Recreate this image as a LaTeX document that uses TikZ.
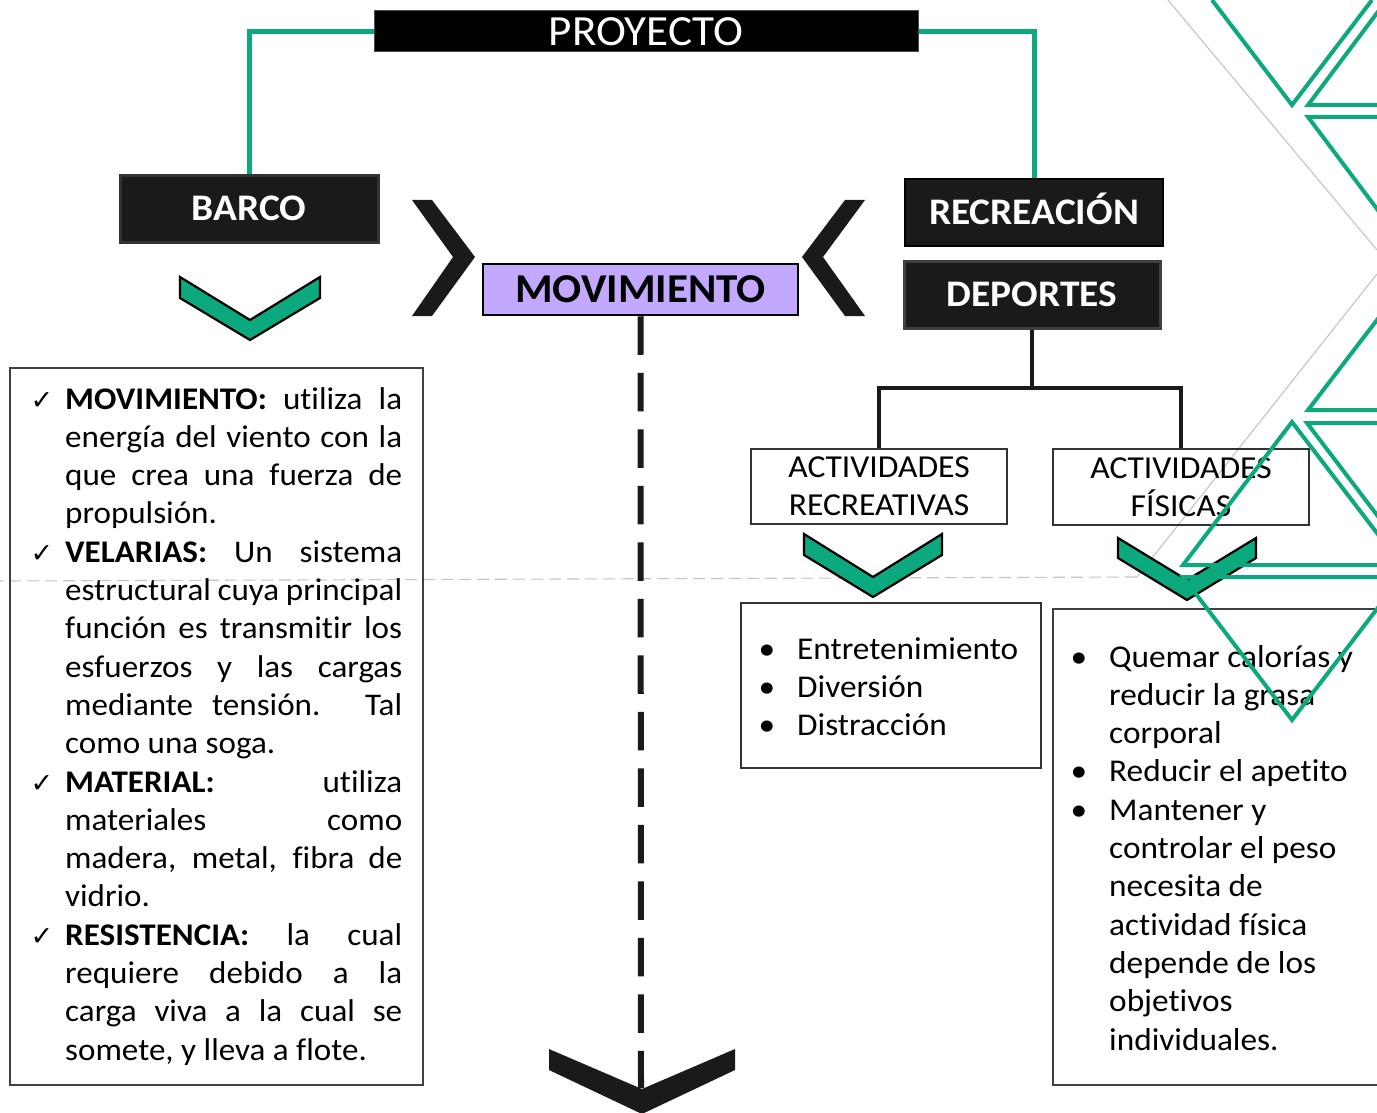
\documentclass[tikz,border=0pt]{standalone}
\usepackage{fontspec}
\setmainfont{Carlito}[FakeStretch=1.05, Ligatures=NoCommon]
\newfontfamily\symfont{DejaVu Sans}
\definecolor{grn}{RGB}{12,168,126}
\definecolor{lav}{RGB}{195,168,255}
\definecolor{ink}{RGB}{26,26,26}
\definecolor{gry}{RGB}{196,196,196}
\newcommand\jline[1]{\makebox[337pt][s]{#1}\\}
\newcommand\chk{\leavevmode\llap{{\symfont\fontsize{27}{27}\selectfont ✓}\hspace{12pt}}}
\newcommand\bul{\leavevmode\llap{•\hspace{22pt}}}
\begin{document}
\begin{tikzpicture}[x=1pt,y=-1pt,
  darkbox/.style={fill=ink, text=white, inner sep=0pt, text depth=0pt,
    font=\bfseries\fontsize{37.5}{37.5}\selectfont, text height=24pt},
  whitebox/.style={draw=black!80, line width=1.5pt, inner sep=0pt, fill=none},
  gconn/.style={draw=grn, line width=5pt},
  bconn/.style={draw=ink, line width=3.5pt},
  dline/.style={draw=ink, line width=6pt, dash pattern=on 38.5pt off 18pt},
  gline/.style={draw=gry, line width=1.1pt},
  tline/.style={draw=grn, line width=4pt},
  gchev/.style={fill=grn, draw=black, line width=2.2pt, line join=miter},
  kchev/.style={fill=ink},
  body/.style={anchor=base west, inner sep=0pt, text=black}
]
\clip (0,0) rectangle (1377,1113);
\fill[white] (0,0) rectangle (1377,1113);

% background grey lines
\draw[gline] (1168,0) -- (1377,250);
\draw[gline] (1377,274) -- (1137,577);
\draw[gline, dash pattern=on 12pt off 6pt] (1137,577) -- (0,581);

% boxes
\node[fill=black, draw=black!70, line width=1pt, text=white, inner sep=0pt,
  minimum width=544pt, minimum height=41pt, text height=27.5pt, text depth=0pt,
  font=\fontsize{43}{43}\selectfont] (proyecto) at (646,31.5) {PROYECTO};
\node[darkbox, draw=black!80, line width=3pt, minimum width=258pt, minimum height=66pt] (barco) at (249,209) {BARCO};
\node[darkbox, draw=black, line width=2pt, minimum width=258pt, minimum height=67pt] (recre) at (1034,212.5) {RECREACIÓN};
\node[darkbox, draw=black!75, line width=3pt, minimum width=256pt, minimum height=67pt] (deportes) at (1032,294.5) {DEPORTES};
\node[fill=lav, draw=black, line width=2.5pt, inner sep=0pt, minimum width=315pt, minimum height=51pt,
  text height=25pt, text depth=0pt, font=\bfseries\fontsize{41}{41}\selectfont] (mov) at (640.5,289.5) {MOVIMIENTO};

\node[whitebox, minimum width=256pt, minimum height=75pt, align=center,
  font=\fontsize{32}{38}\selectfont] (actrec) at (879,486.5) {ACTIVIDADES\\RECREATIVAS};
\node[whitebox, minimum width=256pt, minimum height=76pt, align=center,
  font=\fontsize{32}{38}\selectfont] (actfis) at (1181,487) {ACTIVIDADES\\FÍSICAS};

\node[whitebox, draw=black!75, line width=2pt, minimum width=413pt, minimum height=717pt] (barcolist) at (216.5,726) {};
\node[whitebox, minimum width=300pt, minimum height=165pt] (listrec) at (891,685.5) {};
\node[whitebox, draw=black!75, line width=2pt, minimum width=347pt, minimum height=476pt] (listfis) at (1226.5,847) {};

% texts
\node[body] (barcotxt) at (65,409) {\parbox[t]{337pt}{\fontsize{31.5}{38.3}\selectfont\setlength\parskip{0pt}%
\chk\jline{\textbf{MOVIMIENTO:} utiliza la}
\jline{energía del viento con la}
\jline{que crea una fuerza de}
propulsión.\\
\chk\jline{\textbf{VELARIAS:} Un sistema}
\jline{estructural cuya principal}
\jline{función es transmitir los}
\jline{esfuerzos y las cargas}
\jline{mediante tensión. Tal}
como una soga.\\
\chk\jline{\textbf{MATERIAL:} utiliza}
\jline{materiales como}
\jline{madera, metal, fibra de}
vidrio.\\
\chk\jline{\textbf{RESISTENCIA:} la cual}
\jline{requiere debido a la}
\jline{carga viva a la cual se}
somete, y lleva a flote.}};

\node[body] (rectxt) at (797,659) {\parbox[t]{240pt}{\fontsize{31.7}{38}\selectfont
\bul Entretenimiento\\
\bul Diversión\\
\bul Distracción}};

\node[body] (fistxt) at (1109,667) {\parbox[t]{260pt}{\fontsize{31.7}{38.3}\selectfont
\bul Quemar calorías y\\
reducir la grasa\\
corporal\\
\bul Reducir el apetito\\
\bul Mantener y\\
controlar el peso\\
necesita de\\
actividad física\\
depende de los\\
objetivos\\
individuales.}};

% connectors
\draw[gconn] (proyecto.west) -| (barco.north);
\draw[gconn] (proyecto.east) -| (recre.north);
\coordinate (hub) at (1032,388);
\draw[bconn] (deportes.south) -- (hub);
\draw[bconn] (actrec.north) |- (hub) -| (actfis.north);
\coordinate (endtip) at (641,1088);
\draw[dline] (mov.south) -- (endtip);

% chevrons
\path[gchev] (180,277) -- (250,320) -- (320,277) -- (320,298) -- (250,340) -- (180,298) -- cycle;
\path[gchev] (804,534) -- (873,577) -- (942,534) -- (942,555) -- (873,597) -- (804,555) -- cycle;
\path[gchev] (1118,538) -- (1187,580) -- (1256,538) -- (1256,558) -- (1187,600) -- (1118,558) -- cycle;
\path[kchev] (412,200) -- (432,200) -- (475,257) -- (432,316) -- (412,316) -- (453,257) -- cycle;
\path[kchev] (865,200) -- (845,200) -- (802,257) -- (845,316) -- (865,316) -- (823,257) -- cycle;
\path[kchev] (549,1049) -- (642,1089) -- (735,1049) -- (735,1070) -- (642,1114) -- (549,1070) -- cycle;

% green triangle outlines
\draw[tline] (1212,0) -- (1292,105) -- (1372,0);
\draw[tline] (1380,9) -- (1308,105) -- (1380,105);
\draw[tline] (1380,117) -- (1308,117) -- (1380,213);
\draw[tline] (1380,316) -- (1308,410) -- (1380,410);
\draw[tline] (1380,423) -- (1307,423) -- (1380,519);
\draw[tline] (1380,537) -- (1292,422) -- (1183,565) -- (1380,565);
\draw[tline] (1380,577) -- (1183,577) -- (1292,720) -- (1380,605);
\end{tikzpicture}
\end{document}
